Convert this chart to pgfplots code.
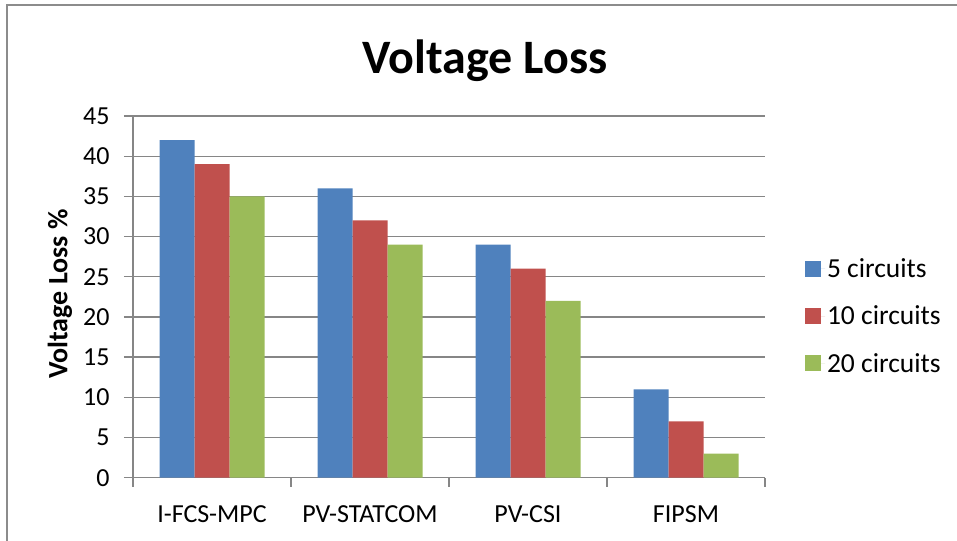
\documentclass[border=0pt]{standalone}
\usepackage{fontspec}
\setmainfont{Carlito}
\usepackage{pgfplots}
\pgfplotsset{compat=1.18}
\definecolor{cblue}{HTML}{4F81BD}
\definecolor{cred}{HTML}{C0504D}
\definecolor{cgreen}{HTML}{9BBB59}
\definecolor{cgrid}{HTML}{868686}
\definecolor{cframe}{HTML}{8C8C8C}
\begin{document}
\begin{tikzpicture}
\path[use as bounding box] (0,0) rectangle (957pt,-540pt);
\begin{scope}
\clip (0,0) rectangle (957pt,-540pt);
\draw[cframe, line width=2pt] (7pt,-5pt) rectangle (1000pt,-600pt);
\end{scope}
\begin{axis}[
  at={(133pt,-477.7pt)}, anchor=south west,
  scale only axis, width=632pt, height=361.7pt,
  xmin=-0.5, xmax=3.5, ymin=0, ymax=45,
  ybar=0pt, bar width=35pt,
  axis x line*=bottom, axis y line*=left,
  axis line style={-, cgrid, line width=1.3pt},
  xtick={-0.5,0.5,1.5,2.5,3.5},
  x tick label as interval,
  xticklabels={I-FCS-MPC,PV-STATCOM,PV-CSI,FIPSM},
  ytick={0,5,...,45},
  major tick length=9pt,
  tick align=outside,
  tick style={cgrid, line width=1.3pt},
  ymajorgrids, grid style={cgrid, line width=1.3pt},
  /pgf/number format/assume math mode=true,
  ticklabel style={font=\fontsize{26}{31}\selectfont},
  yticklabel style={xshift=-11pt},
  xticklabel style={yshift=-15pt},
  title={Voltage Loss},
  title style={font=\bfseries\fontsize{48}{56}\selectfont, at={(axis description cs:0.557,1)}, anchor=base, yshift=37pt},
  ylabel={Voltage Loss \%},
  every axis y label/.style={at={(axis description cs:-0.1155,0.508)}, rotate=90, anchor=center, font=\bfseries\fontsize{28}{33}\selectfont},
  legend style={at={(axis description cs:1.063,0.447)}, anchor=west, draw=none, fill=none, font=\fontsize{27.5}{33}\selectfont, row sep=23pt, inner sep=0pt},
  legend cell align=left,
  legend image code/.code={\fill[#1] (0pt,-8pt) rectangle (16pt,8pt); \path (0pt,0pt) -- (20pt,0pt);},
]
\addplot[fill=cblue, draw=none] coordinates {(0,42) (1,36) (2,29) (3,11)};
\addplot[fill=cred, draw=none] coordinates {(0,39) (1,32) (2,26) (3,7)};
\addplot[fill=cgreen, draw=none] coordinates {(0,35) (1,29) (2,22) (3,3)};
\legend{5 circuits,10 circuits,20 circuits}
\end{axis}
\end{tikzpicture}
\end{document}
